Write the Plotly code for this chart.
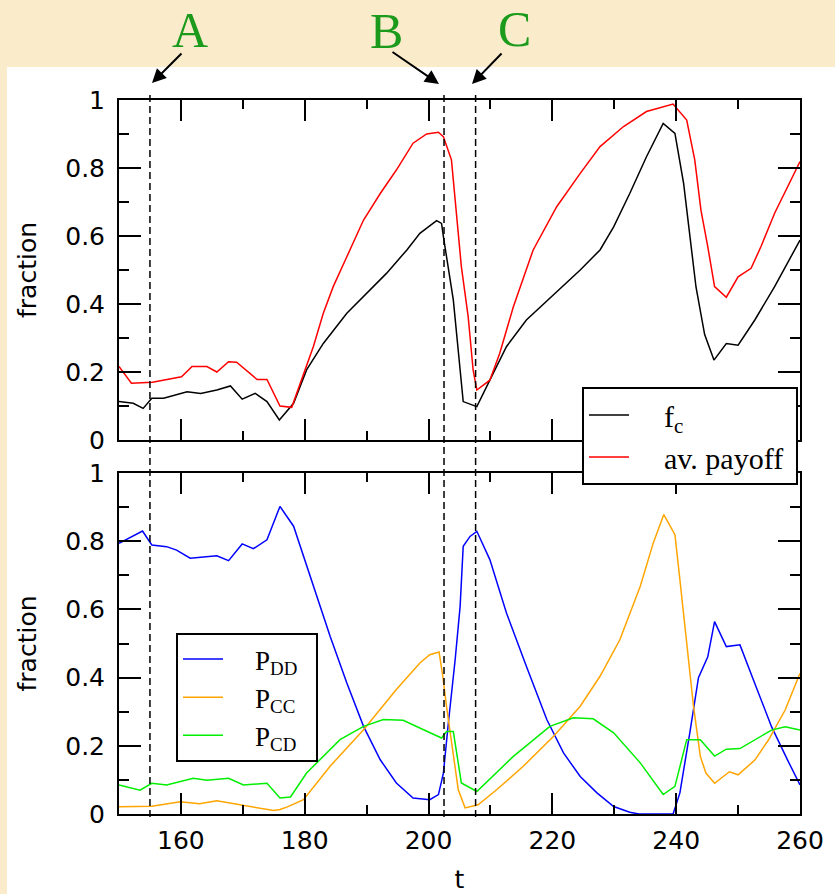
import plotly.graph_objects as go

# ---------------- data ----------------
t_fc = [150, 152.3, 153.9, 155.3, 157.2, 161, 163.2, 165.8, 168, 169.9, 172, 173.9, 175.9, 178.2, 180.3, 183, 186.8,
        189.5, 193.2, 196.5, 198.6, 201.3, 202.1, 202.4, 202.9, 204, 205.6, 207.8, 209.9, 212.6, 215.8, 221.8, 224.5,
        227.7, 229.9, 232.5, 235.2, 237.9, 239.8, 241.2, 243.2, 244.6, 246.1, 248.1, 250, 252.7, 255.9, 260]
fc = [0.113, 0.108, 0.093, 0.123, 0.123, 0.142, 0.137, 0.147, 0.159, 0.12, 0.137, 0.113, 0.059, 0.108, 0.206, 0.284, 0.373,
      0.422, 0.49, 0.559, 0.608, 0.645, 0.637, 0.598, 0.539, 0.412, 0.113, 0.098, 0.176, 0.275, 0.353, 0.456, 0.5,
      0.559, 0.627, 0.725, 0.833, 0.931, 0.902, 0.755, 0.45, 0.31, 0.235, 0.284, 0.279, 0.353, 0.451, 0.588]

t_pay = [150, 152, 155.4, 160.1, 161.8, 164.2, 165.8, 167.7, 169, 172.3, 173.9, 176, 177.9, 179.8, 181.4, 183, 184.6,
         186.8, 189.5, 192.2, 194.8, 197.5, 199.7, 201.6, 202.4, 203.7, 204.5, 205.3, 206.4, 207.2, 207.8, 209.9, 211.5,
         213.7, 216.9, 220.7, 224.5, 227.7, 231.5, 235.2, 239.5, 241.7, 243, 244, 245.1, 246.2, 248.1, 250, 252.1,
         253.7, 255.9, 258, 260]
payoff = [0.216, 0.167, 0.17, 0.186, 0.216, 0.216, 0.2, 0.23, 0.229, 0.178, 0.178, 0.1, 0.096, 0.196, 0.275, 0.373, 0.451,
          0.539, 0.647, 0.725, 0.794, 0.873, 0.9, 0.905, 0.892, 0.824, 0.657, 0.51, 0.363, 0.206, 0.147, 0.176, 0.255,
          0.392, 0.559, 0.686, 0.784, 0.863, 0.922, 0.966, 0.988, 0.941, 0.824, 0.676, 0.569, 0.451, 0.42, 0.48, 0.505,
          0.569, 0.667, 0.745, 0.819]

t_dd = [150, 152.3, 153.8, 155.3, 157.7, 159.3, 161.5, 165.8, 167.7, 169.9, 171.7, 173.9, 176, 178.2, 181.4, 184.1,
        186.8, 189.5, 192.2, 194.8, 197.5, 200.2, 201.6, 202.4, 203.2, 204.3, 205.1, 205.6, 206.7, 207.8, 209.9, 212.6,
        215.8, 219.1, 221.8, 224.5, 227.2, 229.9, 232.5, 234, 239.5, 240.6, 242.2, 243.6, 245.1, 246.2, 248.1, 250.3,
        252.7, 255.4, 258, 260]
p_dd = [0.794, 0.815, 0.83, 0.789, 0.784, 0.774, 0.75, 0.757, 0.743, 0.792, 0.778, 0.804, 0.902, 0.844, 0.668, 0.521,
        0.384, 0.257, 0.159, 0.091, 0.047, 0.042, 0.057, 0.12, 0.267, 0.453, 0.609, 0.785, 0.814, 0.829, 0.746, 0.589,
        0.433, 0.277, 0.179, 0.11, 0.062, 0.022, 0.005, 0, 0, 0.062, 0.238, 0.4, 0.461, 0.564, 0.491, 0.496,
        0.383, 0.256, 0.158, 0.085]

t_cc = [150, 155.3, 159.9, 163, 165.8, 168.5, 171.7, 175, 176, 177.2, 179.8, 184.1, 189.5, 194.8, 198.6, 200.2, 201.7,
        202.3, 202.9, 203.7, 204.8, 205.9, 208, 211, 215.3, 220.2, 224.5, 227.7, 230.9, 234.2, 236.3, 238, 239.8, 240.6,
        241.7, 242.8, 243.9, 244.8, 246.2, 248.6, 250, 252.7, 254.9, 257.6, 260]
p_cc = [0.021, 0.023, 0.036, 0.03, 0.039, 0.03, 0.021, 0.01, 0.013, 0.021, 0.042, 0.14, 0.247, 0.365, 0.443, 0.467, 0.475,
        0.404, 0.316, 0.218, 0.071, 0.018, 0.027, 0.071, 0.14, 0.228, 0.316, 0.404, 0.511, 0.668, 0.795, 0.878, 0.819,
        0.687, 0.492, 0.316, 0.169, 0.12, 0.09, 0.124, 0.115, 0.158, 0.217, 0.305, 0.413]

t_cd = [150, 153.4, 155.3, 157.7, 162, 164.2, 167.7, 170.1, 173.9, 176, 177.7, 180.3, 185.7, 189.5, 192.7, 195.9, 199.2,
        202.1, 202.9, 204, 205.3, 207.8, 213.7, 219.6, 223.4, 226.6, 229.9, 234.2, 237.9, 239.8, 241.7, 243.9, 246.2,
        248.1, 250.3, 252.7, 255.4, 257.6, 260]
p_cd = [0.085, 0.07, 0.09, 0.085, 0.105, 0.099, 0.105, 0.085, 0.09, 0.047, 0.05, 0.12, 0.218, 0.257, 0.277, 0.275, 0.247,
        0.223, 0.242, 0.242, 0.091, 0.066, 0.169, 0.257, 0.282, 0.279, 0.238, 0.15, 0.057, 0.081, 0.218, 0.218, 0.17,
        0.19, 0.192, 0.217, 0.246, 0.256, 0.246]

event_t = [155, 202.5, 207.6]
event_labels = ["A", "B", "C"]
x_ticks = [160, 180, 200, 220, 240, 260]
y_ticks = [0, 0.2, 0.4, 0.6, 0.8, 1]
y_ticklabels = ["0", "0.2", "0.4", "0.6", "0.8", "1"]

# ---------------- figure ----------------
W, H = 835, 894
def px(x):
    return x / W
def py(y):
    return 1 - y / H

NB = "\u00a0"
fig = go.Figure()
LW = 1.5
fig.add_trace(go.Scatter(x=t_fc, y=fc, mode="lines", line=dict(color="black", width=LW),
                         name=NB * 4 + "f<sub>c</sub>", xaxis="x", yaxis="y", legend="legend", legendgroup="a"))
fig.add_trace(go.Scatter(x=t_pay, y=payoff, mode="lines", line=dict(color="#ff0000", width=LW),
                         name=NB * 4 + "av. payoff" + NB, xaxis="x", yaxis="y", legend="legend", legendgroup="b"))
fig.add_trace(go.Scatter(x=t_dd, y=p_dd, mode="lines", line=dict(color="#0000ff", width=LW),
                         name=NB * 4 + "P<sub>DD</sub>" + NB * 2, xaxis="x2", yaxis="y2", legend="legend2", legendgroup="c"))
fig.add_trace(go.Scatter(x=t_cc, y=p_cc, mode="lines", line=dict(color="#ffa500", width=LW),
                         name=NB * 4 + "P<sub>CC</sub>", xaxis="x2", yaxis="y2", legend="legend2", legendgroup="d"))
fig.add_trace(go.Scatter(x=t_cd, y=p_cd, mode="lines", line=dict(color="#00ee00", width=LW),
                         name=NB * 4 + "P<sub>CD</sub>", xaxis="x2", yaxis="y2", legend="legend2", legendgroup="e"))

tickfont = dict(family="DejaVu Sans", size=25, color="black")
titlefont = dict(family="DejaVu Sans", size=25, color="black")
xdom = [px(119), px(800)]
common_x = dict(range=[150, 260], domain=xdom, showgrid=False, zeroline=False, showline=True, linecolor="black",
                linewidth=2, mirror="ticks", ticks="inside", ticklen=21, tickwidth=2, tickcolor="black",
                tickvals=x_ticks, tickfont=tickfont, ticklabelstandoff=3, automargin=False,
                minor=dict(dtick=10, tick0=150, ticks="inside", ticklen=9, tickwidth=2, tickcolor="black"))
common_y = dict(range=[0, 1], showgrid=False, zeroline=False, showline=True, linecolor="black", linewidth=2,
                mirror="ticks", ticks="inside", ticklen=22, tickwidth=2, tickcolor="black",
                tickvals=y_ticks, ticktext=y_ticklabels, tickfont=tickfont, ticklabelstandoff=7, automargin=False,
                minor=dict(dtick=0.1, tick0=0, ticks="inside", ticklen=10, tickwidth=2, tickcolor="black"),
                title=dict(text="fraction", font=titlefont, standoff=21))

fig.update_layout(
    width=W, height=H,
    margin=dict(l=0, r=0, t=0, b=0, autoexpand=False),
    paper_bgcolor="rgb(250,236,203)",
    plot_bgcolor="white",
    showlegend=True,
    xaxis=dict(common_x, anchor="y", showticklabels=False),
    yaxis=dict(common_y, domain=[py(440), py(100)], anchor="x"),
    xaxis2=dict(common_x, anchor="y2", title=dict(text="t", font=titlefont, standoff=28)),
    yaxis2=dict(common_y, domain=[py(814), py(473)], anchor="x2"),
    legend=dict(x=px(582), y=py(387), xanchor="left", yanchor="top", bgcolor="white", bordercolor="black",
                borderwidth=2, font=dict(family="Liberation Serif", size=30, color="black"),
                traceorder="grouped", tracegroupgap=0, itemwidth=40),
    legend2=dict(x=px(176), y=py(633), xanchor="left", yanchor="top", bgcolor="white", bordercolor="black",
                 borderwidth=2, font=dict(family="Liberation Serif", size=27, color="black"),
                 traceorder="grouped", tracegroupgap=0, itemwidth=40),
    hovermode=False,
)

# white sheet behind the chart
fig.add_shape(type="rect", xref="paper", yref="paper", x0=px(7), x1=1.0, y0=0, y1=py(67),
              fillcolor="white", line=dict(width=0), layer="below")

# dashed event lines spanning both panels
for t in event_t:
    fig.add_shape(type="line", xref="x", yref="paper", x0=t, x1=t, y0=py(817), y1=py(92),
                  line=dict(color="black", width=1.5, dash="7px,4px"))

# A/B/C labels and arrows
label_pos = [(190, 30), (386, 31), (514, 29)]
arrow_tail = [(183, 52), (391, 51), (503, 52)]
arrow_tip = [(152, 83), (439, 84), (472, 84)]
for lab, (lx, ly), (tx, ty), (hx, hy) in zip(event_labels, label_pos, arrow_tail, arrow_tip):
    fig.add_annotation(x=px(lx), y=py(ly), xref="paper", yref="paper", text=lab, showarrow=False,
                       font=dict(family="Liberation Serif", size=50, color="#1c9a1c"),
                       xanchor="center", yanchor="middle")
    fig.add_annotation(x=px(hx), y=py(hy), xref="paper", yref="paper", text="", showarrow=True,
                       ax=tx - hx, ay=ty - hy, arrowhead=2, arrowsize=1.4, arrowwidth=2, arrowcolor="black")

fig.write_html("out.html", config=dict(displayModeBar=False),
               post_script="document.body.style.margin='0';document.body.style.overflow='hidden';")
